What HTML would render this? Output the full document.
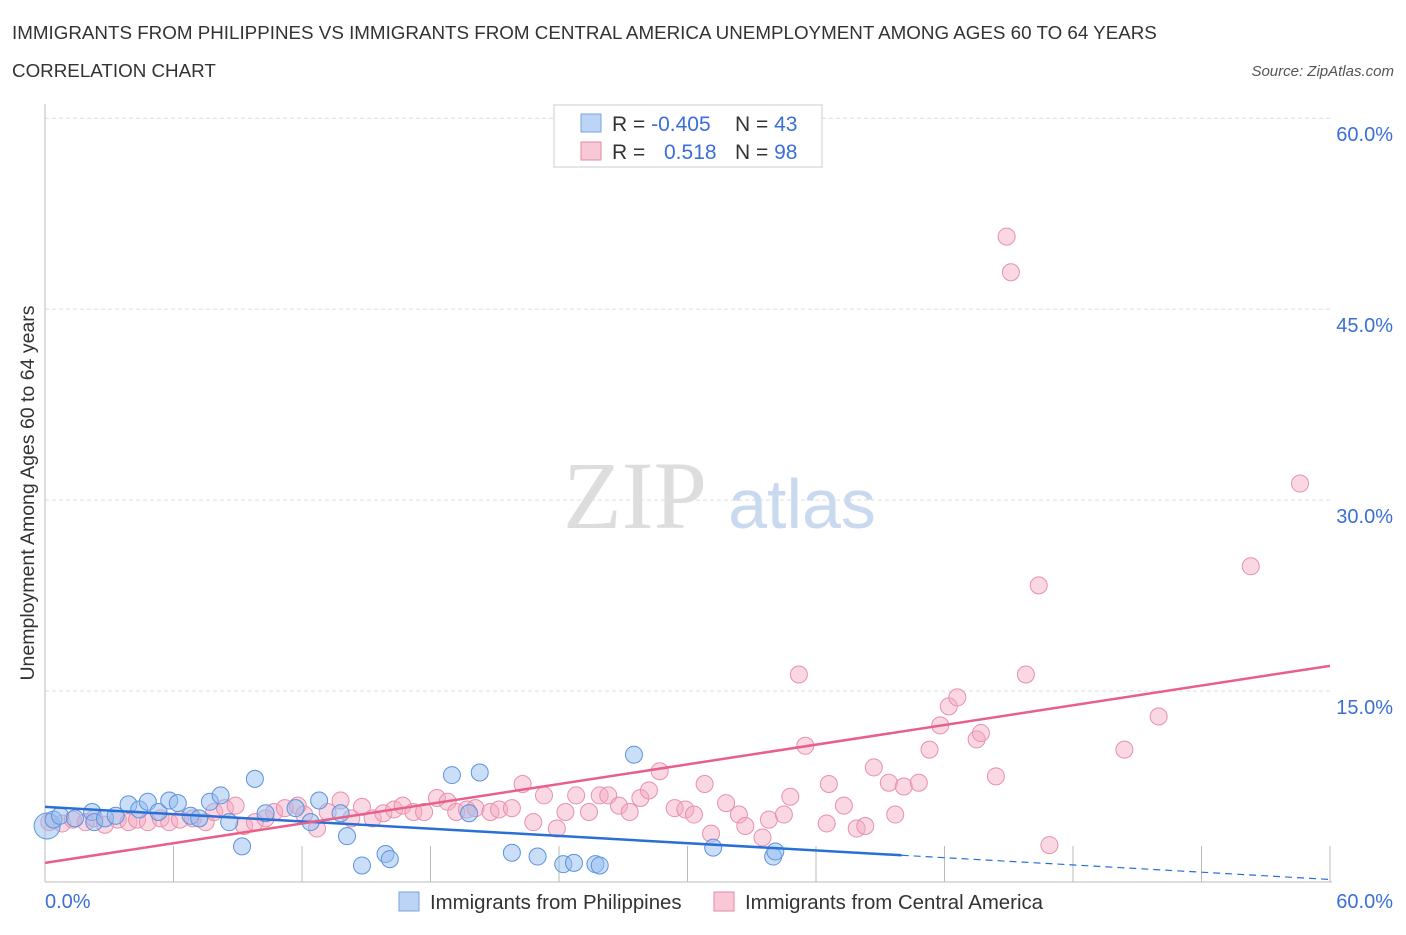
<!DOCTYPE html>
<html><head><meta charset="utf-8"><style>
body{margin:0;background:#fff;font-family:"Liberation Sans",sans-serif;}
</style></head><body>
<svg width="1406" height="930" style="font-family:'Liberation Sans',sans-serif">
<text x="12" y="39" font-size="18.8" fill="#333">IMMIGRANTS FROM PHILIPPINES VS IMMIGRANTS FROM CENTRAL AMERICA UNEMPLOYMENT AMONG AGES 60 TO 64 YEARS</text>
<text x="12" y="77" font-size="18.8" fill="#333">CORRELATION CHART</text>
<text x="1394" y="76" font-size="15" fill="#555" font-style="italic" text-anchor="end">Source: ZipAtlas.com</text>
<g id="grid"></g>
<text x="635" y="528" font-size="96" fill="#ddd" style="font-family:'Liberation Serif',serif" text-anchor="middle">ZIP</text>
<text x="802" y="528" font-size="70" fill="#c9d9ef" text-anchor="middle">atlas</text>
<g id="pts"></g>
<g id="lines"></g>
<text transform="translate(34,493) rotate(-90)" font-size="19.5" fill="#333" text-anchor="middle">Unemployment Among Ages 60 to 64 years</text>
<text x="45" y="908" font-size="20" fill="#3a6fd8">0.0%</text>
<text x="1393" y="908" font-size="20" fill="#3a6fd8" text-anchor="end">60.0%</text>
<g>
<rect x="554" y="105" width="268" height="62" fill="#fff" stroke="#ccc"/>
<rect x="581" y="114" width="20" height="18" fill="#bcd4f6" stroke="#7aa3e0"/>
<rect x="581" y="142" width="20" height="18" fill="#f8c8d6" stroke="#e68aa6"/>
<text x="612" y="131" font-size="21" fill="#333">R = <tspan fill="#3a6fd8">-0.405</tspan></text>
<text x="735" y="131" font-size="21" fill="#333">N = <tspan fill="#3a6fd8">43</tspan></text>
<text x="612" y="159" font-size="21" fill="#333">R = <tspan fill="#3a6fd8" x="664">0.518</tspan></text>
<text x="735" y="159" font-size="21" fill="#333">N = <tspan fill="#3a6fd8">98</tspan></text>
</g>
<g>
<rect x="399" y="892" width="20" height="19" fill="#bcd4f6" stroke="#7aa3e0"/>
<text x="430" y="909" font-size="20.4" fill="#333">Immigrants from Philippines</text>
<rect x="714" y="892" width="20" height="19" fill="#f8c8d6" stroke="#e68aa6"/>
<text x="745" y="909" font-size="20.4" fill="#333">Immigrants from Central America</text>
</g>
</svg>
<script>
const yTicks=[15,30,45,60];
const yTickLabels=["15.0%","30.0%","45.0%","60.0%"];
const blueX=[0.1,0.4,0.7,1.4,2.2,2.3,2.8,3.3,3.9,4.4,4.8,5.3,5.8,6.2,6.8,7.2,7.7,8.2,8.6,9.2,9.8,10.3,11.7,12.4,12.8,13.8,14.1,14.8,15.9,16.1,19.0,19.8,20.3,21.8,23.0,24.2,24.7,25.7,25.9,27.5,31.2,34.0,34.1];
const blueY=[4.4,4.9,5.2,5.0,5.5,4.7,5.0,5.2,6.1,5.7,6.3,5.5,6.4,6.2,5.2,5.0,6.3,6.8,4.7,2.8,8.1,5.4,5.8,4.7,6.4,5.4,3.6,1.3,2.2,1.8,8.4,5.4,8.6,2.3,2.0,1.4,1.5,1.4,1.3,10.0,2.7,2.0,2.4];
const pinkX=[0.2,0.8,1.3,1.9,2.3,2.8,3.4,3.9,4.3,4.8,5.4,5.8,6.3,6.9,7.5,7.9,8.4,8.9,9.3,9.8,10.3,10.7,11.2,11.8,12.1,12.7,13.2,13.8,14.3,14.8,15.3,15.8,16.3,16.7,17.2,17.7,18.3,18.8,19.2,19.7,20.1,20.8,21.2,21.8,22.3,22.8,23.3,23.9,24.3,24.8,25.4,25.9,26.3,26.8,27.3,27.8,28.2,28.7,29.4,29.9,30.3,30.8,31.1,31.8,32.4,32.7,33.5,33.8,34.5,34.8,35.2,35.5,36.6,36.5,37.3,37.9,38.3,38.7,39.4,39.7,40.1,40.8,41.3,41.8,42.2,42.6,43.5,43.7,44.4,44.9,45.1,45.8,46.4,46.9,50.4,52.0,56.3,58.6];
const pinkY=[4.7,4.6,4.9,4.7,5.0,4.5,4.9,4.7,4.9,4.7,5.0,4.7,4.9,5.0,4.7,5.5,5.8,6.0,4.4,4.7,5.0,5.5,5.8,6.0,5.3,4.2,5.5,6.4,5.0,5.9,5.0,5.4,5.7,6.0,5.5,5.5,6.6,6.3,5.5,5.7,5.8,5.5,5.7,5.8,7.7,4.7,6.8,4.2,5.5,6.8,5.5,6.8,6.8,6.0,5.5,6.6,7.2,8.7,5.8,5.7,5.3,7.7,3.8,6.2,5.3,4.4,3.5,4.9,5.3,6.7,16.3,10.7,7.7,4.6,6.0,4.2,4.4,9.0,7.8,5.3,7.5,7.8,10.4,12.3,13.8,14.5,11.2,11.7,8.3,50.7,47.9,16.3,23.3,2.9,10.4,13.0,24.8,31.3];
const NS="http://www.w3.org/2000/svg";
const X0=45,X1=1330,Y0=882,YS=12.73;
const xs=v=>X0+v*(X1-X0)/60, ys=v=>Y0-v*YS;
function mk(t,a,p){const e=document.createElementNS(NS,t);for(const k in a)e.setAttribute(k,a[k]);p.appendChild(e);return e;}
const g=document.getElementById('grid');
yTicks.forEach((t,i)=>{
 const l=mk('line',{x1:X0,x2:X1,y1:ys(t),y2:ys(t),stroke:'#ddd','stroke-dasharray':'4,3'},g);
 
 
 const tx=mk('text',{x:1393,y:ys(t)+23,'font-size':20,fill:'#3a6fd8','text-anchor':'end'},g);
 tx.textContent=yTickLabels[i];
 
 
});
const ax=mk('line',{x1:X0,x2:X0,y1:104,y2:Y0,stroke:'#bbb'},g);


const bx=mk('line',{x1:X0,x2:X1+2,y1:Y0,y2:Y0,stroke:'#bbb'},g);


for(let i=1;i<=10;i++){const t=mk('line',{x1:xs(i*6),x2:xs(i*6),y1:Y0,y2:Y0-36,stroke:'#bbb'},g);
 
 }
const pg=document.getElementById('pts');
pinkX.forEach((v,i)=>{const c=mk('circle',{cx:xs(v),cy:ys(pinkY[i]),r:8.5,fill:'rgba(244,168,192,0.45)',stroke:'#e890ab','stroke-width':1},pg);
 
 });
blueX.forEach((v,i)=>{const c=mk('circle',{cx:xs(v),cy:ys(blueY[i]),r:i==0?13:8.5,fill:'rgba(150,190,240,0.5)',stroke:'#5b93dd','stroke-width':1},pg);
 
 });
const lg=document.getElementById('lines');
const bi=5.9,bs=-0.095,pi=1.5,ps=0.258;
let l1=mk('line',{x1:xs(0),y1:ys(bi),x2:xs(40),y2:ys(bi+bs*40),stroke:'#2a6fd6','stroke-width':2.5},lg);


let l2=mk('line',{x1:xs(40),y1:ys(bi+bs*40),x2:xs(60),y2:ys(bi+bs*60),stroke:'#2a6fd6','stroke-width':1.2,'stroke-dasharray':'7,5'},lg);


let l3=mk('line',{x1:xs(0),y1:ys(pi),x2:xs(60),y2:ys(pi+ps*60),stroke:'#e8608a','stroke-width':2.5},lg);


</script>
</body></html>
